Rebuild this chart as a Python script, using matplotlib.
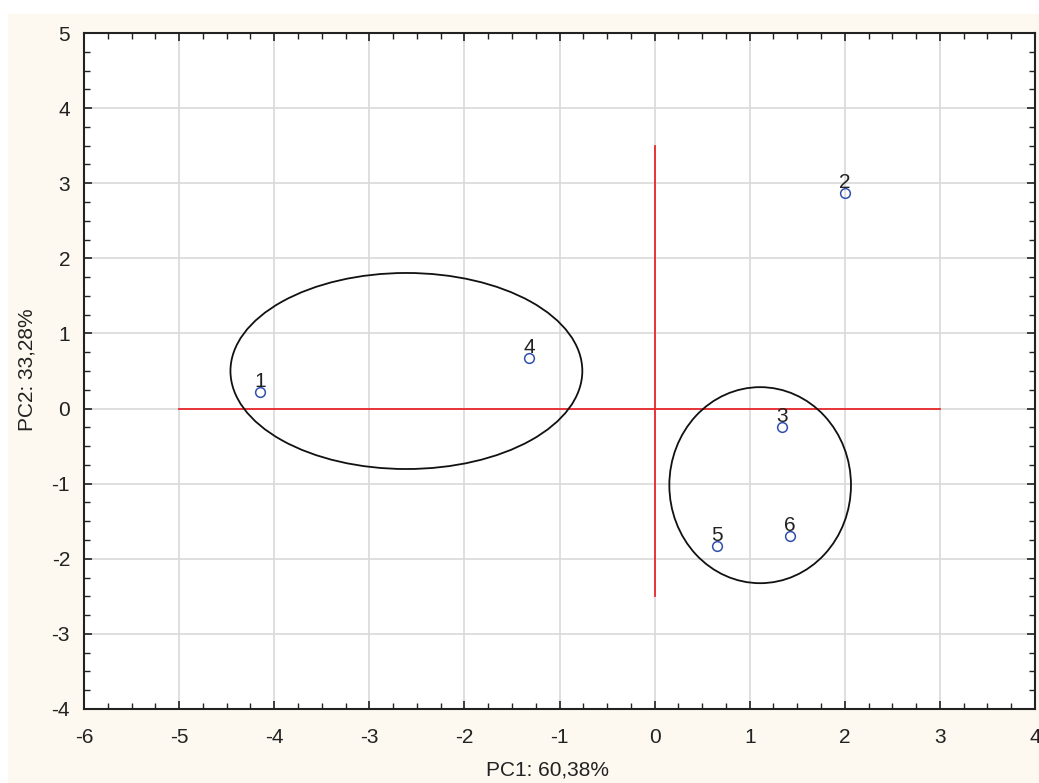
import matplotlib
matplotlib.use("Agg")
import matplotlib.pyplot as plt
from matplotlib.patches import Ellipse, Rectangle
from matplotlib.ticker import MultipleLocator

plt.rcParams['font.family'] = ['Liberation Sans', 'DejaVu Sans']
plt.rcParams['axes.unicode_minus'] = False

labels = ["1", "2", "3", "4", "5", "6"]
pc1 = [-4.15, 2.00, 1.34, -1.32, 0.66, 1.42]
pc2 = [0.22, 2.87, -0.25, 0.67, -1.83, -1.70]

# group ellipses: (center x, center y, width, height)
ellipses = [(-2.61, 0.50, 3.70, 2.61), (1.11, -1.02, 1.91, 2.61)]
# red reference axes
hline = (-5, 3)
vline = (-2.5, 3.5)

fig = plt.figure(figsize=(10.39, 7.83), dpi=100, facecolor='white')
fig.patches.append(Rectangle((8/1039, 0), 1 - 8/1039, 1 - 14/783,
                             transform=fig.transFigure, facecolor='#fdf9f0',
                             edgecolor='none', zorder=-10))
ax = fig.add_axes([84/1039, 1 - 709/783, (1035-84)/1039, (709-33)/783])
ax.set_facecolor('white')
ax.set_xlim(-6, 4)
ax.set_ylim(-4, 5)
ax.xaxis.set_major_locator(MultipleLocator(1))
ax.yaxis.set_major_locator(MultipleLocator(1))
ax.xaxis.set_minor_locator(MultipleLocator(0.25))
ax.yaxis.set_minor_locator(MultipleLocator(0.25))
ax.grid(True, which='major', color='#d9d9d9', linewidth=1.2, zorder=0)
ax.set_axisbelow(True)
ax.tick_params(which='both', direction='in', top=True, right=True,
               labelsize=15, colors='#222222')
ax.tick_params(axis='x', which='major', pad=14)
ax.tick_params(axis='y', which='major', pad=10)
ax.tick_params(which='major', length=6, width=1.2)
ax.tick_params(which='minor', length=4, width=1.0)
for s in ax.spines.values():
    s.set_linewidth(1.5)
    s.set_color('#222222')

ax.plot(list(hline), [0, 0], color='#e8262a', linewidth=1.3, zorder=2)
ax.plot([0, 0], list(vline), color='#e8262a', linewidth=1.3, zorder=2)

for cx, cy, w, h in ellipses:
    ax.add_patch(Ellipse((cx, cy), w, h, fill=False, edgecolor='#111111',
                         linewidth=1.3, zorder=3))

ax.plot(pc1, pc2, linestyle='none', marker='o', markersize=7,
        markerfacecolor='none', markeredgecolor='#3050b0', markeredgewidth=1.1,
        zorder=4)
for lab, x, y in zip(labels, pc1, pc2):
    ax.annotate(lab, (x, y), xytext=(0, 5), textcoords='offset pixels',
                ha='center', va='baseline', fontsize=15, color='#222222', zorder=5)

fig.text(548/1039, 1 - 770/783, 'PC1: 60,38%', ha='center', va='center',
         fontsize=15, color='#222222')
fig.text(27/1039, 1 - 370/783, 'PC2: 33,28%', ha='center', va='center',
         rotation=90, fontsize=15, color='#222222')

fig.savefig('out.png', dpi=100, facecolor=fig.get_facecolor())
